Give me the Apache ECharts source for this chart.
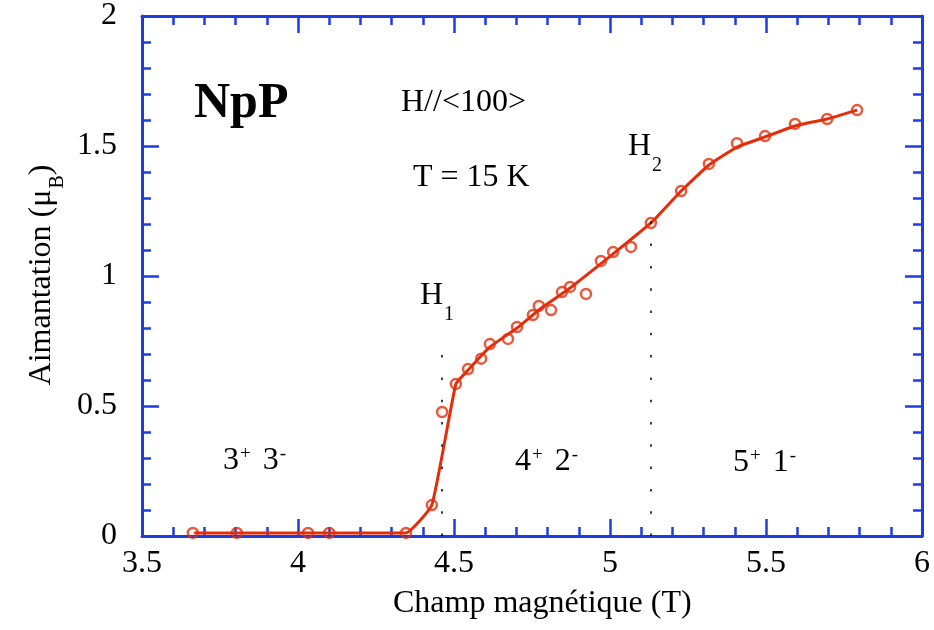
<!DOCTYPE html>
<html>
<head>
<meta charset="utf-8">
<script src="https://cdn.jsdelivr.net/npm/echarts@6/dist/echarts.min.js"></script>
<style>
  html, body { margin: 0; padding: 0; background: #fff; }
  #chart { width: 934px; height: 630px; }
</style>
</head>
<body>
<div id="chart"></div>
<script>
// Measured points: field (T) and magnetisation (μB)
const fieldT = [3.663, 3.804, 4.032, 4.100, 4.346, 4.429, 4.462, 4.506, 4.545, 4.587,
                4.615, 4.673, 4.702, 4.753, 4.772, 4.811, 4.846, 4.872, 4.923, 4.971,
                5.010, 5.067, 5.131, 5.228, 5.317, 5.407, 5.497, 5.593, 5.696, 5.792];
const moment = [0.012, 0.012, 0.012, 0.012, 0.012, 0.119, 0.477, 0.585, 0.642, 0.682,
                0.738, 0.758, 0.804, 0.850, 0.885, 0.869, 0.938, 0.958, 0.931, 1.058,
                1.092, 1.112, 1.204, 1.327, 1.431, 1.511, 1.538, 1.585, 1.604, 1.638];
// Guide curve drawn through the data
const fitT = [3.667, 4.346, 4.429, 4.506, 4.545, 4.615, 4.702, 4.776, 4.872, 5.010,
              5.131, 5.228, 5.317, 5.407, 5.497, 5.593, 5.696, 5.792];
const fitM = [0.012, 0.012, 0.119, 0.585, 0.638, 0.727, 0.800, 0.873, 0.954, 1.085,
              1.204, 1.327, 1.427, 1.496, 1.535, 1.577, 1.604, 1.638];
// Transition fields H1, H2 and top of their dotted markers
const transitionT = [4.462, 5.131];
const transitionTop = [0.70, 1.285];
// Axis ranges
const xRange = [3.5, 6];
const yRange = [0, 2];

const BLUE = '#1e3de0';
const RED = '#e62d0a';
const SERIF = '"Liberation Serif", "Times New Roman", serif';

const chart = echarts.init(document.getElementById('chart'), null, { renderer: 'canvas' });

function axisCommon(extra) {
  return Object.assign({
    axisLine: { show: true, onZero: false, lineStyle: { color: BLUE, width: 3 } },
    axisTick: { show: true, inside: true, length: 17, lineStyle: { color: BLUE, width: 2.5 } },
    minorTick: { show: true, splitNumber: 5, length: 9, lineStyle: { color: BLUE, width: 2.5 } },
    splitLine: { show: false },
    minorSplitLine: { show: false }
  }, extra);
}

const scatterData = fieldT.map((t, i) => [t, moment[i]]);
const fitData = fitT.map((t, i) => [t, fitM[i]]);
const markData = transitionT.map((t, i) => [{ coord: [t, 0] }, { coord: [t, transitionTop[i]] }]);

const supRich = {
  m: { fontFamily: SERIF, fontSize: 32, lineHeight: 32, verticalAlign: 'top' },
  n: { fontFamily: SERIF, fontSize: 32, lineHeight: 32, verticalAlign: 'top', padding: [0, 0, 0, 12] },
  p: { fontFamily: SERIF, fontSize: 19, lineHeight: 19, verticalAlign: 'top', padding: [0, 0, 0, 1] }
};
const subRich = {
  a: { fontFamily: SERIF, fontSize: 32, lineHeight: 32, verticalAlign: 'top' },
  s: { fontFamily: SERIF, fontSize: 20, lineHeight: 20, verticalAlign: 'top', padding: [25, 0, 0, 1] }
};

const option = {
  animation: false,
  backgroundColor: '#fff',
  grid: { left: 142, right: 12, top: 16, bottom: 94, containLabel: false },
  xAxis: [
    axisCommon({
      type: 'value', min: xRange[0], max: xRange[1], interval: 0.5, position: 'bottom',
      axisLabel: { show: true, margin: 12, color: '#000', fontFamily: SERIF, fontSize: 32,
                   formatter: v => String(+v.toFixed(2)) }
    }),
    axisCommon({
      type: 'value', min: xRange[0], max: xRange[1], interval: 0.5, position: 'top',
      axisLabel: { show: false }
    })
  ],
  yAxis: [
    axisCommon({
      type: 'value', min: yRange[0], max: yRange[1], interval: 0.5, position: 'left',
      axisLabel: { show: true, margin: 25, color: '#000', fontFamily: SERIF, fontSize: 32,
                   formatter: v => String(+v.toFixed(2)) }
    }),
    axisCommon({
      type: 'value', min: yRange[0], max: yRange[1], interval: 0.5, position: 'right',
      axisLabel: { show: false }
    })
  ],
  series: [
    {
      type: 'line',
      data: fitData,
      xAxisIndex: 0, yAxisIndex: 0,
      showSymbol: false,
      symbol: 'none',
      smooth: 0.12,
      lineStyle: { color: RED, width: 3 },
      z: 3,
      markLine: {
        silent: true,
        symbol: 'none',
        label: { show: false },
        lineStyle: { color: '#000', width: 1.5, type: [2.5, 19.8] },
        data: markData
      }
    },
    {
      type: 'scatter',
      data: scatterData,
      xAxisIndex: 0, yAxisIndex: 0,
      symbol: 'circle',
      symbolSize: 10,
      itemStyle: { color: 'rgba(0,0,0,0)', borderColor: RED, borderWidth: 2.5 },
      z: 4
    }
  ],
  graphic: [
    { type: 'text', x: 194, y: 104, z: 10,
      style: { text: 'NpP', font: 'bold 50px ' + SERIF, fill: '#000', textAlign: 'left', textVerticalAlign: 'middle' } },
    { type: 'text', x: 401, y: 103, z: 10,
      style: { text: 'H//<100>', font: '32px ' + SERIF, fill: '#000', textAlign: 'left', textVerticalAlign: 'middle' } },
    { type: 'text', x: 413, y: 177.5, z: 10,
      style: { text: 'T = 15 K', font: '32px ' + SERIF, fill: '#000', textAlign: 'left', textVerticalAlign: 'middle' } },
    { type: 'text', x: 420, y: 280, z: 10,
      style: { text: '{a|H}{s|1}', fill: '#000', textAlign: 'left', textVerticalAlign: 'top', rich: subRich } },
    { type: 'text', x: 628, y: 131, z: 10,
      style: { text: '{a|H}{s|2}', fill: '#000', textAlign: 'left', textVerticalAlign: 'top', rich: subRich } },
    { type: 'text', x: 223, y: 444.5, z: 10,
      style: { text: '{m|3}{p|+}{n|3}{p|-}', fill: '#000', textAlign: 'left', textVerticalAlign: 'top', rich: supRich } },
    { type: 'text', x: 515, y: 446, z: 10,
      style: { text: '{m|4}{p|+}{n|2}{p|-}', fill: '#000', textAlign: 'left', textVerticalAlign: 'top', rich: supRich } },
    { type: 'text', x: 733, y: 447, z: 10,
      style: { text: '{m|5}{p|+}{n|1}{p|-}', fill: '#000', textAlign: 'left', textVerticalAlign: 'top', rich: supRich } },
    { type: 'text', x: 393, y: 604, z: 10,
      style: { text: 'Champ magnétique (T)', font: '32px ' + SERIF, fill: '#000', textAlign: 'left', textVerticalAlign: 'middle' } },
    { type: 'text', x: 42, y: 275, z: 10, rotation: Math.PI / 2,
      style: { text: '{a|Aimantation (μ}{s|B}{a|)}', fill: '#000', textAlign: 'center', textVerticalAlign: 'middle',
        rich: { a: { fontFamily: SERIF, fontSize: 32, lineHeight: 32, verticalAlign: 'top' },
                s: { fontFamily: SERIF, fontSize: 20, lineHeight: 20, verticalAlign: 'top', padding: [22, 0, 0, 1] } } } }
  ]
};

chart.setOption(option);
</script>
</body>
</html>
